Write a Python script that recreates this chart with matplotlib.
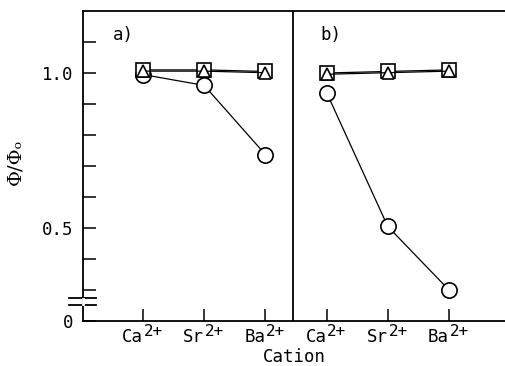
import matplotlib
matplotlib.use("Agg")
import matplotlib.pyplot as plt
import numpy as np

plt.rcParams['font.family'] = ['DejaVu Sans Mono']
plt.rcParams['mathtext.fontset'] = 'custom'
plt.rcParams['mathtext.rm'] = 'DejaVu Sans Mono'
plt.rcParams['mathtext.it'] = 'DejaVu Sans Mono'
plt.rcParams['mathtext.bf'] = 'DejaVu Sans Mono'

# ---- data ----
ions = ["Ca", "Sr", "Ba"]
charge = "2+"
a_circle = [0.995, 0.96, 0.737]
a_square = [1.01, 1.01, 1.005]
a_triangle = [1.006, 1.006, 1.001]
b_circle = [0.937, 0.505, 0.30]
b_square = [1.0, 1.005, 1.01]
b_triangle = [0.996, 1.001, 1.006]
ytick_vals = [0.2, 0.5, 1.0]
ytick_labels = ["0", "0.5", "1.0"]
yminor_vals = [0.3, 0.4, 0.6, 0.7, 0.8, 0.9, 1.1]

W, H = 506, 366
fig = plt.figure(figsize=(W / 100, H / 100), dpi=100)
ax = fig.add_axes([83 / W, 1 - 321 / H, 1 - 83 / W, (321 - 11) / H])

xa = np.arange(1, 4)
xb = np.arange(4, 7)

lw = 0.9
mew = 1.2
for xs, circ, sq, tri in [(xa, a_circle, a_square, a_triangle),
                          (xb, b_circle, b_square, b_triangle)]:
    ax.plot(xs, circ, '-', color='black', lw=lw, marker='o', ms=11,
            mfc='white', mec='black', mew=mew, zorder=3)
    ax.plot(xs, sq, '-', color='black', lw=lw, marker='s', ms=10.5,
            mfc='white', mec='black', mew=mew, zorder=4)
    ax.plot(xs, tri, '-', color='black', lw=lw, marker='^', ms=8.5,
            mfc='white', mec='black', mew=mew, zorder=5)

ax.axvline(3.45, color='black', lw=1.3, zorder=6)

ax.set_xlim(0.02, 0.02 + 423 / 61.2)
ax.set_ylim(0.2, 1.2)
xt = np.concatenate([xa, xb])
ax.set_xticks(xt)
ax.set_xticklabels(ions + ions, fontsize=12.5, ha='right')
for x, name in zip(xt, ions + ions):
    ax.annotate(charge, xy=(x, 0), xycoords=('data', 'axes fraction'),
                xytext=(0.5, -2.5), textcoords='offset points',
                ha='left', va='top', fontsize=11.5)
ax.set_yticks(ytick_vals)
ax.set_yticklabels(ytick_labels, fontsize=12.5)
ax.set_yticks(yminor_vals, minor=True)
ax.tick_params(axis='both', which='both', direction='in', length=9, width=1.1,
               colors='black')
ax.tick_params(axis='x', pad=5)
ax.tick_params(axis='y', pad=7)
ax.spines['right'].set_visible(False)
for s in ['left', 'bottom', 'top']:
    ax.spines[s].set_linewidth(1.3)

# axis break marks
for yb in [0.275, 0.252]:
    ax.plot([-0.21, 0.23], [yb, yb], color='black', lw=1.3, clip_on=False, zorder=7)
ax.plot([0.02, 0.02], [0.256, 0.271], color='white', lw=2, clip_on=False, zorder=7)

ax.text(0.5, 1.122, "a)", fontsize=12.5, ha='left', va='center')
ax.text(3.9, 1.122, "b)", fontsize=12.5, ha='left', va='center')

fig.text(294.5 / W, 1 - 361.5 / H, "Cation", fontsize=12.5, ha='center',
         va='baseline')
fig.text(15 / W, 1 - 162 / H, "Φ/Φₒ", rotation=90,
         family=['DejaVu Serif', 'DejaVu Sans'],
         fontsize=14, ha='center', va='center')

fig.savefig("out.png", dpi=100)
